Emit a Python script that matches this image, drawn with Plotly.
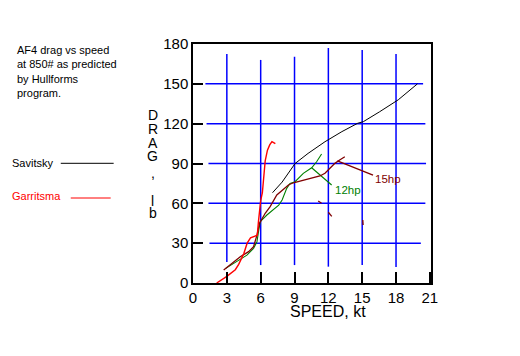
import plotly.graph_objects as go

# ---- data (speed kt, drag lb) ----
sav_x = [7.05, 7.9, 9.05, 10.2, 11.7, 13.2, 14.6, 15.1, 16.55, 18.2, 19.9]
sav_y = [68, 76, 90, 97.6, 106.4, 114, 120.3, 121.5, 129, 138, 150]

gar_x = [2.1, 3.0, 3.75, 4.05, 4.5, 4.8, 5.1, 5.5, 5.7, 5.8, 5.9, 6.0, 6.15, 6.3, 6.4, 6.6, 6.8, 7.0, 7.3]
gar_y = [0, 5, 10, 14, 22, 30, 34, 35, 36, 46, 55, 62, 68, 80, 92, 100, 104, 106.5, 105]

hp15_x = [2.72, 3.46, 4.19, 4.93, 5.37, 5.67, 5.9, 6.4, 6.84, 7.43, 8.46, 8.9, 9.93, 11.25, 11.7, 12.58, 13.0, 13.46]
hp15_y = [9.8, 14.8, 19.8, 23.6, 27.3, 36.1, 45, 52.5, 57.5, 66.3, 73.8, 75.5, 77.6, 80.6, 82.6, 90.1, 92.6, 95.1]
hp15_lead_x = [12.8, 15.96]
hp15_lead_y = [92, 81.3]
frag_x = [[11.1, 11.4], [12.0, 12.3], [15.05, 15.08]]
frag_y = [[61.7, 60.0], [53.3, 50.2], [47.4, 43.7]]

hp12_x = [2.9, 3.16, 4.04, 4.78, 5.37, 5.67, 5.81, 5.96, 6.55, 7.13, 7.6, 7.9, 8.31, 8.6, 9.05, 9.78, 10.52, 10.96, 11.4]
hp12_y = [11, 12.3, 17.3, 21, 26.1, 31.1, 38.6, 46.2, 51.2, 55, 58.7, 62.5, 71.3, 75, 76.3, 82.6, 86.8, 91.3, 97.1]
hp12_lead_x = [10.52, 12.29]
hp12_lead_y = [86.8, 73.8]

vgrid_x = [3, 6, 9, 12, 15, 18]
vgrid_lo = [15.8, 13.5, 13.5, 12.3, 13.5, 12.0]
vgrid_hi = [172.4, 168.0, 170.4, 177.0, 175.5, 172.4]
hgrid_y = [30, 60, 90, 120, 150]
hgrid_lo = [1.46, 1.37, 1.37, 1.2, 1.1]
hgrid_hi = [20.2, 20.6, 20.66, 20.6, 20.4]

x_ticks = [0, 3, 6, 9, 12, 15, 18, 21]
y_ticks = [0, 30, 60, 90, 120, 150, 180]

FONT = "Liberation Sans, Arial, sans-serif"
BLUE = "#0000ff"
RED = "#ff0000"
DRED = "#800000"
GREEN = "#008000"

OFF = 8  # page body margin
W, H = 520, 356
# plot area in window pixels
WX0, WX1, WY0, WY1 = 192.5, 431, 283, 44
L = WX0 - OFF
R = W - (WX1 - OFF)
T = WY1 - OFF
B = H - (WY0 - OFF)


def px(x):
    return (x - WX0) / (WX1 - WX0)


def py(y):
    return (WY0 - y) / (WY0 - WY1)


fig = go.Figure()

# blue grid lines drawn as traces
for gx, lo, hi in zip(vgrid_x, vgrid_lo, vgrid_hi):
    fig.add_trace(go.Scatter(x=[gx, gx], y=[lo, hi], mode="lines",
                             line=dict(color=BLUE, width=1.5), hoverinfo="skip"))
for gy, lo, hi in zip(hgrid_y, hgrid_lo, hgrid_hi):
    fig.add_trace(go.Scatter(x=[lo, hi], y=[gy, gy], mode="lines",
                             line=dict(color=BLUE, width=1.5), hoverinfo="skip"))

fig.add_trace(go.Scatter(x=sav_x, y=sav_y, mode="lines", line=dict(color="black", width=1)))
fig.add_trace(go.Scatter(x=hp12_x, y=hp12_y, mode="lines", line=dict(color=GREEN, width=1.1)))
fig.add_trace(go.Scatter(x=hp12_lead_x, y=hp12_lead_y, mode="lines", line=dict(color=GREEN, width=1.1)))
fig.add_trace(go.Scatter(x=hp15_x, y=hp15_y, mode="lines", line=dict(color=DRED, width=1.3)))
fig.add_trace(go.Scatter(x=hp15_lead_x, y=hp15_lead_y, mode="lines", line=dict(color=DRED, width=1.3)))
for fx, fy in zip(frag_x, frag_y):
    fig.add_trace(go.Scatter(x=fx, y=fy, mode="lines", line=dict(color=DRED, width=1.3)))
fig.add_trace(go.Scatter(x=gar_x, y=gar_y, mode="lines", line=dict(color=RED, width=1.4)))

ann = []
# notes
ann.append(dict(x=px(14), y=py(42), xref="paper", yref="paper", xanchor="left", yanchor="top",
                align="left", showarrow=False,
                text="AF4 drag vs speed<br>at 850# as predicted<br>by Hullforms<br>program.",
                font=dict(family=FONT, size=11, color="black")))
# legend texts
ann.append(dict(x=px(9), y=py(162.5), xref="paper", yref="paper", xanchor="left", yanchor="middle",
                showarrow=False, text="Savitsky", font=dict(family=FONT, size=11, color="black")))
ann.append(dict(x=px(9), y=py(196), xref="paper", yref="paper", xanchor="left", yanchor="middle",
                showarrow=False, text="Garritsma", font=dict(family=FONT, size=11, color=RED)))
# y title stacked letters
for ch, yy in [("D", 115), ("R", 129), ("A", 143), ("G", 156), (",", 173), ("l", 201), ("b", 212.5)]:
    ann.append(dict(x=px(152), y=py(yy), xref="paper", yref="paper", xanchor="center", yanchor="middle",
                    showarrow=False, text=ch, font=dict(family=FONT, size=14, color="black")))
# x title
ann.append(dict(x=px(328), y=py(311), xref="paper", yref="paper", xanchor="center", yanchor="middle",
                showarrow=False, text="SPEED, kt", font=dict(family=FONT, size=16, color="black")))
# curve labels
ann.append(dict(x=16.0, y=py(179), xref="x", yref="paper", xanchor="left", yanchor="middle",
                showarrow=False, text="15hp", font=dict(family=FONT, size=11.5, color=DRED)))
ann.append(dict(x=12.4, y=py(190), xref="x", yref="paper", xanchor="left", yanchor="middle",
                showarrow=False, text="12hp", font=dict(family=FONT, size=11.5, color=GREEN)))

shapes = [
    dict(type="line", xref="paper", yref="paper", x0=px(60), x1=px(113), y0=py(163.3), y1=py(163.3),
         line=dict(color="black", width=1)),
    dict(type="line", xref="paper", yref="paper", x0=px(70), x1=px(110), y0=py(198), y1=py(198),
         line=dict(color=RED, width=1)),
]

fig.update_layout(
    width=W, height=H,
    margin=dict(l=L, r=R, t=T, b=B, pad=0),
    paper_bgcolor="white", plot_bgcolor="white",
    showlegend=False,
    annotations=ann, shapes=shapes,
    font=dict(family=FONT, size=15, color="black"),
    xaxis=dict(range=[0, 21.1], tickvals=x_ticks, ticktext=[str(v) for v in x_ticks],
               showgrid=False, zeroline=False, showline=True, mirror=True,
               linecolor="black", linewidth=1.5, ticks="inside", ticklen=11,
               tickcolor="black", tickwidth=1.5, tickfont=dict(family=FONT, size=15)),
    yaxis=dict(range=[0, 180], tickvals=y_ticks, ticktext=[str(v) for v in y_ticks],
               showgrid=False, zeroline=False, showline=True, mirror=True,
               linecolor="black", linewidth=1.5, ticks="inside", ticklen=10,
               tickcolor="black", tickwidth=1.5, tickfont=dict(family=FONT, size=15)),
)

fig.write_html("out.html")
